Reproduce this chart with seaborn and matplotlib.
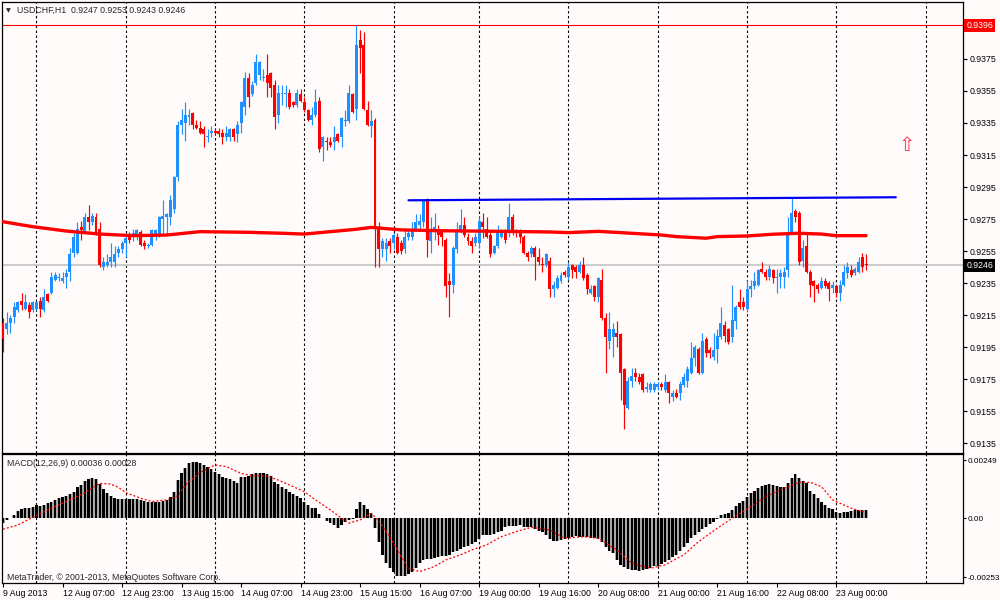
import numpy as np
import matplotlib
matplotlib.use("Agg")
import matplotlib.pyplot as plt
import seaborn as sns
from matplotlib.transforms import blended_transform_factory

sns.set_style("white")
plt.rcParams['font.family'] = ['Liberation Sans', 'DejaVu Sans']

# ---------------- data (USDCHF H1) ----------------
opens = [0.9210,0.9206,0.9210,0.9214,0.9218,0.9224,0.9219,0.9221,0.9218,0.9219,
0.9224,0.9218,0.9228,0.9229,0.9237,0.9238,0.9236,0.9239,0.9242,0.9254,
0.9254,0.9270,0.9267,0.9276,0.9273,0.9276,0.9269,0.9245,0.9246,0.9248,
0.9248,0.9254,0.9256,0.9260,0.9265,0.9264,0.9264,0.9267,0.9260,0.9258,
0.9259,0.9265,0.9265,0.9275,0.9276,0.9276,0.9281,0.9301,0.9334,0.9335,
0.9339,0.9341,0.9334,0.9332,0.9331,0.9326,0.9329,0.9330,0.9330,0.9329,
0.9326,0.9326,0.9331,0.9328,0.9335,0.9345,0.9363,0.9353,0.9360,0.9365,
0.9363,0.9365,0.9366,0.9359,0.9340,0.9353,0.9353,0.9354,0.9348,0.9346,
0.9353,0.9348,0.9343,0.9337,0.9340,0.9349,0.9320,0.9324,0.9323,0.9323,
0.9328,0.9326,0.9336,0.9336,0.9353,0.9344,0.9387,0.9384,0.9343,0.9333,
0.9337,0.9269,0.9256,0.9256,0.9261,0.9260,0.9264,0.9260,0.9256,0.9264,
0.9264,0.9269,0.9271,0.9273,0.9287,0.9261,0.9268,0.9269,0.9268,0.9262,
0.9236,0.9234,0.9256,0.9268,0.9271,0.9264,0.9261,0.9260,0.9260,0.9273,
0.9269,0.9265,0.9254,0.9258,0.9264,0.9268,0.9267,0.9276,0.9268,0.9267,
0.9264,0.9254,0.9253,0.9257,0.9251,0.9247,0.9246,0.9249,0.9231,0.9232,
0.9236,0.9242,0.9239,0.9246,0.9245,0.9242,0.9246,0.9240,0.9229,0.9233,
0.9226,0.9237,0.9213,0.9199,0.9201,0.9204,0.9203,0.9181,0.9157,0.9174,
0.9179,0.9176,0.9178,0.9169,0.9168,0.9168,0.9170,0.9172,0.9168,0.9173,
0.9164,0.9166,0.9166,0.9171,0.9174,0.9179,0.9188,0.9194,0.9179,0.9200,
0.9193,0.9189,0.9194,0.9201,0.9209,0.9206,0.9201,0.9211,0.9223,0.9223,
0.9219,0.9231,0.9233,0.9234,0.9244,0.9242,0.9239,0.9243,0.9238,0.9239,
0.9239,0.9243,0.9267,0.9280,0.9279,0.9249,0.9258,0.9242,0.9236,0.9234,
0.9232,0.9236,0.9235,0.9232,0.9233,0.9229,0.9234,0.9241,0.9243,0.9241,
0.9242,0.9251,0.9247]

highs = [0.9213,0.9217,0.9215,0.9223,0.9224,0.9229,0.9228,0.9223,0.9224,0.9224,
0.9226,0.9231,0.9229,0.9242,0.9242,0.9241,0.9242,0.9244,0.9257,0.9266,
0.9273,0.9274,0.9279,0.9284,0.9279,0.9279,0.9273,0.9251,0.9253,0.9260,
0.9258,0.9258,0.9261,0.9265,0.9267,0.9269,0.9269,0.9268,0.9262,0.9260,
0.9269,0.9269,0.9277,0.9287,0.9279,0.9290,0.9302,0.9336,0.9344,0.9348,
0.9344,0.9342,0.9337,0.9336,0.9333,0.9331,0.9333,0.9331,0.9332,0.9331,
0.9333,0.9332,0.9332,0.9336,0.9349,0.9367,0.9366,0.9361,0.9378,0.9374,
0.9369,0.9378,0.9367,0.9362,0.9359,0.9359,0.9359,0.9356,0.9349,0.9356,
0.9356,0.9351,0.9344,0.9345,0.9356,0.9351,0.9327,0.9326,0.9326,0.9333,
0.9329,0.9339,0.9343,0.9359,0.9354,0.9396,0.9393,0.9392,0.9349,0.9343,
0.9338,0.9273,0.9263,0.9263,0.9263,0.9266,0.9266,0.9262,0.9268,0.9268,
0.9273,0.9278,0.9278,0.9287,0.9288,0.9276,0.9279,0.9271,0.9269,0.9263,
0.9241,0.9258,0.9273,0.9281,0.9276,0.9266,0.9264,0.9266,0.9276,0.9279,
0.9276,0.9267,0.9259,0.9271,0.9269,0.9269,0.9285,0.9278,0.9269,0.9269,
0.9265,0.9255,0.9258,0.9258,0.9257,0.9251,0.9254,0.9251,0.9236,0.9240,
0.9242,0.9243,0.9248,0.9247,0.9246,0.9249,0.9251,0.9241,0.9234,0.9234,
0.9239,0.9244,0.9216,0.9217,0.9210,0.9211,0.9204,0.9182,0.9176,0.9182,
0.9182,0.9179,0.9179,0.9173,0.9173,0.9173,0.9173,0.9173,0.9178,0.9174,
0.9168,0.9169,0.9174,0.9179,0.9183,0.9198,0.9196,0.9195,0.9204,0.9201,
0.9195,0.9204,0.9206,0.9220,0.9211,0.9207,0.9234,0.9221,0.9231,0.9226,
0.9237,0.9237,0.9242,0.9244,0.9248,0.9244,0.9246,0.9244,0.9244,0.9244,
0.9245,0.9276,0.9289,0.9281,0.9280,0.9262,0.9266,0.9243,0.9237,0.9235,
0.9239,0.9238,0.9236,0.9236,0.9234,0.9237,0.9246,0.9248,0.9246,0.9245,
0.9251,0.9254,0.9253]

lows = [0.9192,0.9203,0.9204,0.9210,0.9217,0.9218,0.9218,0.9213,0.9217,0.9218,
0.9214,0.9217,0.9223,0.9228,0.9236,0.9236,0.9235,0.9232,0.9236,0.9251,
0.9253,0.9262,0.9266,0.9268,0.9271,0.9265,0.9245,0.9243,0.9245,0.9245,
0.9245,0.9251,0.9254,0.9251,0.9260,0.9261,0.9262,0.9258,0.9256,0.9257,
0.9258,0.9262,0.9264,0.9266,0.9265,0.9271,0.9279,0.9299,0.9328,0.9324,
0.9334,0.9331,0.9331,0.9328,0.9320,0.9323,0.9326,0.9328,0.9326,0.9322,
0.9324,0.9324,0.9324,0.9323,0.9329,0.9340,0.9345,0.9352,0.9359,0.9362,
0.9361,0.9351,0.9351,0.9331,0.9335,0.9346,0.9345,0.9344,0.9345,0.9345,
0.9348,0.9342,0.9336,0.9334,0.9339,0.9317,0.9311,0.9318,0.9320,0.9318,
0.9323,0.9320,0.9333,0.9335,0.9341,0.9337,0.9366,0.9343,0.9333,0.9326,
0.9245,0.9245,0.9251,0.9249,0.9254,0.9256,0.9253,0.9253,0.9254,0.9262,
0.9262,0.9268,0.9269,0.9270,0.9251,0.9254,0.9262,0.9259,0.9258,0.9226,
0.9214,0.9229,0.9254,0.9266,0.9264,0.9259,0.9254,0.9258,0.9257,0.9263,
0.9263,0.9251,0.9253,0.9257,0.9263,0.9260,0.9264,0.9265,0.9264,0.9260,
0.9253,0.9249,0.9251,0.9237,0.9246,0.9242,0.9245,0.9226,0.9226,0.9231,
0.9235,0.9239,0.9237,0.9238,0.9238,0.9241,0.9237,0.9228,0.9228,0.9224,
0.9223,0.9212,0.9179,0.9194,0.9189,0.9195,0.9162,0.9144,0.9156,0.9170,
0.9174,0.9172,0.9167,0.9167,0.9167,0.9167,0.9168,0.9168,0.9167,0.9160,
0.9161,0.9163,0.9162,0.9170,0.9170,0.9178,0.9183,0.9178,0.9178,0.9189,
0.9188,0.9187,0.9185,0.9200,0.9198,0.9197,0.9198,0.9206,0.9219,0.9218,
0.9217,0.9226,0.9231,0.9233,0.9241,0.9237,0.9237,0.9235,0.9229,0.9232,
0.9232,0.9239,0.9266,0.9273,0.9246,0.9245,0.9241,0.9226,0.9223,0.9229,
0.9231,0.9232,0.9224,0.9229,0.9226,0.9224,0.9233,0.9238,0.9239,0.9240,
0.9241,0.9242,0.9243]

closes = [0.9200,0.9210,0.9213,0.9220,0.9223,0.9221,0.9223,0.9217,0.9223,0.9223,
0.9219,0.9226,0.9224,0.9239,0.9240,0.9239,0.9238,0.9241,0.9253,0.9264,
0.9269,0.9268,0.9276,0.9273,0.9277,0.9266,0.9246,0.9248,0.9248,0.9251,
0.9253,0.9256,0.9260,0.9263,0.9262,0.9266,0.9268,0.9259,0.9258,0.9259,
0.9268,0.9268,0.9276,0.9277,0.9278,0.9287,0.9301,0.9334,0.9337,0.9340,
0.9340,0.9334,0.9332,0.9329,0.9328,0.9327,0.9330,0.9329,0.9328,0.9326,
0.9329,0.9331,0.9326,0.9334,0.9348,0.9363,0.9351,0.9359,0.9373,0.9373,
0.9364,0.9360,0.9357,0.9339,0.9354,0.9354,0.9354,0.9345,0.9346,0.9354,
0.9349,0.9343,0.9337,0.9340,0.9348,0.9319,0.9326,0.9323,0.9321,0.9326,
0.9324,0.9338,0.9337,0.9354,0.9342,0.9384,0.9382,0.9344,0.9334,0.9336,
0.9269,0.9256,0.9261,0.9260,0.9258,0.9265,0.9254,0.9255,0.9264,0.9266,
0.9269,0.9273,0.9274,0.9286,0.9262,0.9269,0.9270,0.9265,0.9264,0.9233,
0.9234,0.9257,0.9268,0.9271,0.9265,0.9261,0.9258,0.9264,0.9274,0.9270,
0.9264,0.9253,0.9258,0.9268,0.9267,0.9262,0.9276,0.9268,0.9266,0.9264,
0.9254,0.9251,0.9257,0.9251,0.9248,0.9246,0.9253,0.9231,0.9234,0.9238,
0.9240,0.9240,0.9245,0.9243,0.9242,0.9246,0.9238,0.9231,0.9231,0.9226,
0.9238,0.9213,0.9201,0.9206,0.9206,0.9201,0.9179,0.9159,0.9174,0.9177,
0.9176,0.9173,0.9168,0.9170,0.9172,0.9172,0.9172,0.9170,0.9173,0.9166,
0.9166,0.9164,0.9172,0.9176,0.9181,0.9188,0.9195,0.9179,0.9199,0.9191,
0.9191,0.9193,0.9202,0.9210,0.9202,0.9198,0.9212,0.9220,0.9220,0.9220,
0.9231,0.9233,0.9236,0.9243,0.9242,0.9239,0.9244,0.9238,0.9239,0.9241,
0.9242,0.9266,0.9279,0.9276,0.9248,0.9257,0.9242,0.9234,0.9233,0.9231,
0.9236,0.9233,0.9231,0.9234,0.9229,0.9234,0.9242,0.9245,0.9240,0.9244,
0.9248,0.9245,0.9246]

macd_hist = [-0.00019,-0.00007,0.00003,0.00014,0.00031,0.00039,0.00043,0.00046,0.00050,0.00056,
0.00054,0.00057,0.00064,0.00072,0.00079,0.00086,0.00090,0.00096,0.00104,0.00114,
0.00133,0.00143,0.00162,0.00169,0.00174,0.00169,0.00147,0.00124,0.00107,0.00096,
0.00089,0.00083,0.00084,0.00084,0.00084,0.00084,0.00082,0.00077,0.00074,0.00070,
0.00069,0.00069,0.00072,0.00074,0.00079,0.00093,0.00112,0.00164,0.00193,0.00215,
0.00236,0.00242,0.00242,0.00239,0.00229,0.00222,0.00210,0.00200,0.00189,0.00179,
0.00174,0.00169,0.00162,0.00153,0.00176,0.00179,0.00182,0.00189,0.00196,0.00196,
0.00194,0.00189,0.00182,0.00157,0.00146,0.00136,0.00126,0.00114,0.00104,0.00096,
0.00086,0.00072,0.00057,0.00046,0.00043,0.00019,0.00003,-0.00010,-0.00021,-0.00029,
-0.00040,-0.00029,-0.00017,-0.00007,-0.00004,0.00040,0.00069,0.00057,0.00039,0.00024,
-0.00043,-0.00104,-0.00157,-0.00193,-0.00215,-0.00232,-0.00246,-0.00250,-0.00246,-0.00240,
-0.00229,-0.00215,-0.00193,-0.00179,-0.00176,-0.00173,-0.00169,-0.00167,-0.00164,-0.00160,
-0.00157,-0.00147,-0.00140,-0.00133,-0.00124,-0.00119,-0.00110,-0.00100,-0.00090,-0.00074,
-0.00072,-0.00070,-0.00066,-0.00060,-0.00053,-0.00039,-0.00033,-0.00033,-0.00033,-0.00029,
-0.00036,-0.00039,-0.00039,-0.00047,-0.00053,-0.00061,-0.00072,-0.00090,-0.00096,-0.00096,
-0.00093,-0.00089,-0.00086,-0.00082,-0.00076,-0.00079,-0.00082,-0.00082,-0.00084,-0.00086,
-0.00090,-0.00104,-0.00122,-0.00139,-0.00150,-0.00179,-0.00200,-0.00210,-0.00219,-0.00222,
-0.00222,-0.00225,-0.00222,-0.00217,-0.00215,-0.00207,-0.00203,-0.00196,-0.00189,-0.00179,
-0.00167,-0.00157,-0.00139,-0.00124,-0.00107,-0.00086,-0.00072,-0.00057,-0.00047,-0.00036,
-0.00024,-0.00014,-0.00004,0.00013,0.00019,0.00024,0.00036,0.00053,0.00067,0.00076,
0.00090,0.00107,0.00119,0.00129,0.00139,0.00143,0.00146,0.00143,0.00140,0.00136,
0.00136,0.00150,0.00172,0.00189,0.00174,0.00160,0.00153,0.00119,0.00103,0.00086,
0.00069,0.00057,0.00043,0.00039,0.00029,0.00021,0.00026,0.00029,0.00031,0.00034,
0.00034,0.00036,0.00036]

signal_idx = [0,4,8,13,17,22,26,29,31,33,37,40,44,47,49,53,57,60,64,67,71,74,78,81,84,88,
              91,93,96,99,101,104,107,109,112,116,119,123,126,130,134,138,142,147,151,156,
              160,165,169,174,178,183,187,192,196,201,205,210,214,217,220,223,228,231,232]
signal_val = [-0.00047,-0.00029,0.00004,0.00043,0.00072,0.00110,0.00150,0.00147,0.00133,0.00110,
              0.00086,0.00072,0.00079,0.00096,0.00143,0.00197,0.00229,0.00222,0.00193,0.00182,
              0.00182,0.00164,0.00136,0.00114,0.00079,0.00036,0.00000,-0.00021,-0.00007,0.00021,
              -0.00010,-0.00079,-0.00164,-0.00215,-0.00229,-0.00207,-0.00179,-0.00157,-0.00136,
              -0.00114,-0.00079,-0.00057,-0.00039,-0.00050,-0.00086,-0.00079,-0.00086,-0.00136,
              -0.00193,-0.00215,-0.00200,-0.00157,-0.00100,-0.00043,0.00000,0.00050,0.00093,
              0.00129,0.00154,0.00154,0.00136,0.00079,0.00043,0.00029,0.00028]

ma_idx = [0,8,17,26,35,44,53,66,75,81,88,95,99,102,107,117,134,147,152,160,166,177,181,
          189,192,200,207,214,220,224,232]
ma_val = [0.92733,0.92702,0.92675,0.92656,0.92646,0.92650,0.92671,0.92667,0.92661,0.92656,
          0.92671,0.92686,0.92698,0.92692,0.92682,0.92677,0.92673,0.92669,0.92665,0.92673,
          0.92665,0.92650,0.92640,0.92630,0.92640,0.92644,0.92655,0.92661,0.92656,0.92646,
          0.92646]

trend_idx = [109, 240]
trend_val = [0.92867, 0.92886]

high_line = 0.9396
bid_line = 0.9246
arrow_pos = (243, 0.93212)

day_grid_idx = [9, 33, 57, 81, 105, 128, 152, 176, 200, 224, 248]
label_idx = [0, 16, 32, 48, 64, 80, 96, 112, 128, 144, 160, 176, 192, 208, 224]
label_txt = ["9 Aug 2013", "12 Aug 07:00", "12 Aug 23:00", "13 Aug 15:00", "14 Aug 07:00",
             "14 Aug 23:00", "15 Aug 15:00", "16 Aug 07:00", "19 Aug 00:00", "19 Aug 16:00",
             "20 Aug 08:00", "21 Aug 00:00", "21 Aug 16:00", "22 Aug 08:00", "23 Aug 00:00"]
price_ticks = [0.9135, 0.9155, 0.9175, 0.9195, 0.9215, 0.9235, 0.9255, 0.9275,
               0.9295, 0.9315, 0.9335, 0.9355, 0.9375]
macd_ticks = [-0.00253, 0.0, 0.00249]
macd_tick_txt = ["-0.00253", "0.00", "0.00249"]

# ---------------- figure ----------------
BG = '#FFFBFB'
BULL = '#1E90FF'
BEAR = '#FF0000'
FS = 6.3

fig = plt.figure(figsize=(10, 6), dpi=100, facecolor=BG)
ax = fig.add_axes([0.002, 1 - 453 / 600, 0.961, 451 / 600])
axm = fig.add_axes([0.002, 1 - 583 / 600, 0.961, 129 / 600])

XL = (-0.27, 258.06)
for a in (ax, axm):
    a.set_facecolor(BG)
    a.set_xlim(*XL)
    for s in a.spines.values():
        s.set_color('black')
        s.set_linewidth(0.9)
    for g in day_grid_idx:
        a.axvline(g, color='black', lw=0.8, ls=(0, (2.2, 2.2)), zorder=1)

# ---- main price panel ----
o = np.array(opens); h = np.array(highs); l = np.array(lows); c = np.array(closes)
x = np.arange(len(o))
cols = np.where(c >= o, BULL, BEAR)
ax.axhline(bid_line, color='#C8C8C8', lw=1.3, zorder=1.5)
ax.axhline(high_line, color='#FF0000', lw=0.8, zorder=1.5)
ax.vlines(x, l, h, colors=cols, lw=0.85, zorder=2)
body = np.maximum(np.abs(c - o), 0.00007)
ax.bar(x, body, bottom=np.minimum(o, c), width=0.8, color=cols, linewidth=0, zorder=3)

sns.lineplot(x=ma_idx, y=ma_val, ax=ax, color='#FF0000', lw=2.4, zorder=4)
sns.lineplot(x=trend_idx, y=trend_val, ax=ax, color='#0000F0', lw=1.6, zorder=4)
ax.text(arrow_pos[0], arrow_pos[1], '\u21e7', color='#FF3050', fontsize=14,
        ha='center', va='center', family=['DejaVu Sans'], zorder=5)

ax.set_ylim(0.91288, 0.94106)
ax.set_xticks([])
ax.yaxis.tick_right()
ax.set_yticks(price_ticks)
ax.set_yticklabels(["%.4f" % v for v in price_ticks])
ax.tick_params(axis='y', direction='out', length=3, width=0.8, pad=1.5,
               labelsize=FS, colors='black', right=True)
ax.set_xlabel(''); ax.set_ylabel('')

tr = blended_transform_factory(ax.transAxes, ax.transData)
ax.text(1.0035, high_line, "%.4f" % high_line, transform=tr, ha='left', va='center',
        color='white', fontsize=FS, clip_on=False,
        bbox=dict(boxstyle='square,pad=0.22', fc='#FF0000', ec='none'))
ax.text(1.0035, bid_line, "%.4f" % bid_line, transform=tr, ha='left', va='center',
        color='white', fontsize=FS, clip_on=False,
        bbox=dict(boxstyle='square,pad=0.22', fc='black', ec='none'))

# ---- MACD panel ----
mh = np.array(macd_hist)
xm = np.arange(len(mh))
axm.bar(xm, mh, width=1.0, color='#A8A8A8', linewidth=0, zorder=2)
axm.bar(xm, mh, width=0.6, color='black', linewidth=0, zorder=3)
sns.lineplot(x=signal_idx, y=signal_val, ax=axm, color='#FF0000', lw=0.9,
             linestyle=(0, (1.6, 1.6)), zorder=4)
axm.set_ylim(-0.00278, 0.00276)
axm.yaxis.tick_right()
axm.set_yticks(macd_ticks)
axm.set_yticklabels(macd_tick_txt)
axm.set_xticks(label_idx)
axm.set_xticklabels(label_txt)
for t in axm.get_xticklabels():
    t.set_horizontalalignment('left')
axm.tick_params(axis='y', direction='out', length=2.5, width=0.8, pad=0.8,
                labelsize=5.9, colors='black', right=True)
axm.tick_params(axis='x', direction='out', length=3, width=0.8, pad=1.5,
                labelsize=FS, colors='black', bottom=True)
axm.set_xlabel(''); axm.set_ylabel('')

# ---- texts ----
fig.text(0.0085, 1 - 10.5 / 600, '\u25bc', fontsize=4.5, ha='center', va='center',
         family=['DejaVu Sans'])
fig.text(0.017, 1 - 10 / 600, 'USDCHF,H1  0.9247 0.9253 0.9243 0.9246',
         fontsize=FS, ha='left', va='center')
fig.text(0.007, 1 - 463 / 600, 'MACD(12,26,9) 0.00036 0.00028',
         fontsize=FS, ha='left', va='center', zorder=10)
fig.text(0.007, 1 - 577 / 600, 'MetaTrader, \u00a9 2001-2013, MetaQuotes Software Corp.',
         fontsize=FS, ha='left', va='center', zorder=10)

fig.savefig('out.png', dpi=100, facecolor=BG)
